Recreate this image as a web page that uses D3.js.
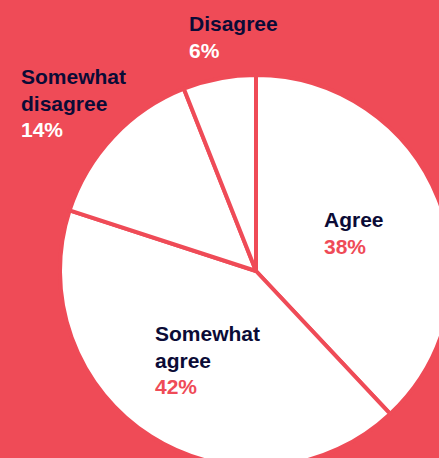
<!DOCTYPE html>
<html>
<head>
<meta charset="utf-8">
<script src="https://cdn.jsdelivr.net/npm/d3@7"></script>
<style>
  html, body { margin: 0; padding: 0; background: #ef4b57; }
  svg { display: block; }
  text { font-family: "Liberation Sans", Arial, sans-serif; font-weight: 700; }
</style>
</head>
<body>
<div id="chart"></div>
<script>
const categories = ["Agree", "Somewhat agree", "Somewhat disagree", "Disagree"];
const values = [38, 42, 14, 6];
const labelLines = [["Agree"], ["Somewhat", "agree"], ["Somewhat", "disagree"], ["Disagree"]];

const width = 439, height = 458;
const bg = "#ef4b57";
const navy = "#0b0b36";

// label anchor (left x, first baseline) and colour of the percent line
const labelPos = [
  { x: 324, y: 227, pct: bg },
  { x: 155, y: 341, pct: bg },
  { x: 21, y: 84, pct: "#fff" },
  { x: 189, y: 31, pct: "#fff" },
];
const lineH = 26.5;

const svg = d3.select("#chart")
  .append("svg")
  .attr("width", width)
  .attr("height", height);

svg.append("rect").attr("width", width).attr("height", height).attr("fill", bg);

const cx = 256, cy = 271, r = 196;

const pie = d3.pie().sort(null).value((d) => d.value);
const arcs = pie(categories.map((c, i) => ({ cat: c, value: values[i] })));
const arc = d3.arc().innerRadius(0).outerRadius(r);

const g = svg.append("g").attr("transform", `translate(${cx},${cy})`);

g.selectAll("path")
  .data(arcs)
  .join("path")
  .attr("d", arc)
  .attr("fill", "#fff")
  .attr("stroke", bg)
  .attr("stroke-width", 4)
  .attr("stroke-linejoin", "round");

const labels = svg.append("g").attr("class", "labels");

arcs.forEach((a, i) => {
  const p = labelPos[i];
  const t = labels.append("text")
    .attr("x", p.x)
    .attr("y", p.y)
    .attr("font-size", 21);
  labelLines[i].forEach((ln, j) => {
    t.append("tspan")
      .attr("x", p.x)
      .attr("y", p.y + j * lineH)
      .attr("fill", navy)
      .text(ln);
  });
  t.append("tspan")
    .attr("x", p.x)
    .attr("y", p.y + labelLines[i].length * lineH)
    .attr("fill", p.pct)
    .text(`${a.data.value}%`);
});
</script>
</body>
</html>
